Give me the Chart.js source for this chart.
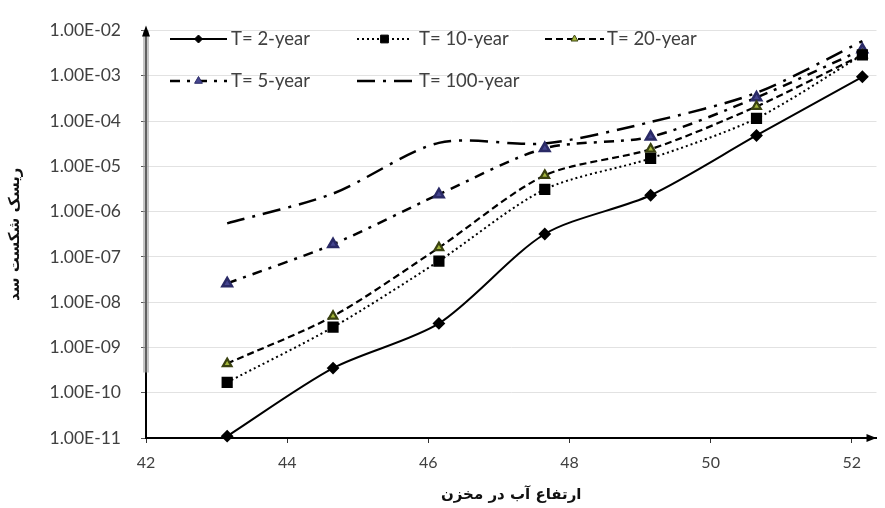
<!DOCTYPE HTML>
<html>
<head>
  <meta charset="UTF-8">
  <script src="https://cdn.jsdelivr.net/npm/chart.js"></script>
  <style>
    html, body { margin: 0; padding: 0; background: #fff; }
    .chart-container { width: 885px; height: 508px; }
  </style>
</head>
<body>
  <div class="chart-container">
    <canvas id="riskChart" width="885" height="508"></canvas>
  </div>

<script>
  // water level in reservoir (m)
  const levels = [43.15, 44.65, 46.15, 47.65, 49.15, 50.65, 52.15];

  // dam failure risk per return period
  const risk2 = [1.1e-11, 3.5e-10, 3.4e-9, 3.2e-7, 2.3e-6, 4.8e-5, 9.5e-4];
  const risk10 = [1.7e-10, 2.8e-9, 8.1e-8, 3.1e-6, 1.5e-5, 1.15e-4, 2.9e-3];
  const risk20 = [4.4e-10, 4.9e-9, 1.6e-7, 6.3e-6, 2.4e-5, 2.1e-4, 2.9e-3];
  const risk5 = [2.6e-8, 1.9e-7, 2.4e-6, 2.5e-5, 4.5e-5, 3.3e-4, 3.8e-3];
  const risk100 = [5.5e-7, 2.5e-6, 3.3e-5, 3.2e-5, 9.5e-5, 4.2e-4, 5.8e-3];

  const seriesNames = ['T= 2-year', 'T= 10-year', 'T= 20-year', 'T= 5-year', 'T= 100-year'];

  const xTicks = [42, 44, 46, 48, 50, 52];
  const yTicks = [1e-11, 1e-10, 1e-9, 1e-8, 1e-7, 1e-6, 1e-5, 1e-4, 1e-3, 1e-2];
  const yTickLabels = ['1.00E-11', '1.00E-10', '1.00E-09', '1.00E-08', '1.00E-07',
                       '1.00E-06', '1.00E-05', '1.00E-04', '1.00E-03', '1.00E-02'];

  const xTitle = 'ارتفاع آب در مخزن';
  const yTitle = 'ریسک شکست سد';

  function toPoints(values) {
    return values.map((v, i) => ({ x: levels[i], y: v }));
  }

  // excel-like legend, two rows inside the plot
  const insideLegend = {
    id: 'insideLegend',
    afterDraw(chart) {
      const ctx = chart.ctx;
      const lineFrom = [170, 357, 545];
      const lineTo = [227, 412, 604];
      const textAt = [231, 419, 607];
      const rows = [39, 81];
      chart.data.datasets.forEach((ds, i) => {
        const c = i % 3;
        const y0 = rows[Math.floor(i / 3)];
        ctx.save();
        ctx.strokeStyle = ds.borderColor;
        ctx.lineWidth = ds.borderWidth;
        ctx.setLineDash(ds.borderDash || []);
        ctx.beginPath();
        ctx.moveTo(lineFrom[c], y0);
        ctx.lineTo(lineTo[c], y0);
        ctx.stroke();
        ctx.setLineDash([]);
        if (ds.pointRadius > 0) {
          ctx.fillStyle = ds.pointBackgroundColor;
          ctx.strokeStyle = ds.pointBorderColor;
          ctx.lineWidth = 1;
          Chart.helpers.drawPoint(ctx, {
            pointStyle: ds.pointStyle, radius: ds.pointRadius - 1, rotation: 0, borderWidth: 1
          }, (lineFrom[c] + lineTo[c]) / 2, y0);
        }
        ctx.fillStyle = '#404040';
        ctx.font = '18.5px Lato, "Open Sans", sans-serif';
        ctx.textBaseline = 'middle';
        ctx.fillText(ds.label, textAt[c], y0);
        ctx.restore();
      });
    }
  };

  // axis arrows and the grey smear along the y axis
  const axisDecor = {
    id: 'axisDecor',
    beforeDatasetsDraw(chart) {
      const ctx = chart.ctx;
      const a = chart.chartArea;
      ctx.save();
      ctx.fillStyle = 'rgba(160,160,160,0.6)';
      ctx.fillRect(a.left - 3, a.top, 6, 342);
      ctx.restore();
    },
    afterDraw(chart) {
      const ctx = chart.ctx;
      const a = chart.chartArea;
      ctx.save();
      ctx.fillStyle = '#000';
      ctx.beginPath();
      ctx.moveTo(a.left, a.top - 5);
      ctx.lineTo(a.left - 4, a.top + 6);
      ctx.lineTo(a.left + 4, a.top + 6);
      ctx.closePath();
      ctx.fill();
      ctx.beginPath();
      ctx.moveTo(a.right, a.bottom);
      ctx.lineTo(a.right - 10, a.bottom - 4);
      ctx.lineTo(a.right - 10, a.bottom + 4);
      ctx.closePath();
      ctx.fill();
      ctx.restore();
    }
  };

  function initializeChart() {
    const ctx = document.getElementById('riskChart').getContext('2d');

    new Chart(ctx, {
      type: 'line',
      data: {
        datasets: [{
          label: seriesNames[0],
          data: toPoints(risk2),
          borderColor: '#000',
          borderWidth: 2,
          pointStyle: 'rectRot',
          pointRadius: 5,
          pointBackgroundColor: '#000',
          pointBorderColor: '#000'
        }, {
          label: seriesNames[1],
          data: toPoints(risk10),
          borderColor: '#000',
          borderWidth: 2,
          borderDash: [2, 3],
          pointStyle: 'rect',
          pointRadius: 6.5,
          pointBackgroundColor: '#000',
          pointBorderColor: '#000'
        }, {
          label: seriesNames[2],
          data: toPoints(risk20),
          borderColor: '#000',
          borderWidth: 2.2,
          borderDash: [7, 4],
          pointStyle: 'triangle',
          pointRadius: 5,
          pointBackgroundColor: '#a3b53a',
          pointBorderColor: '#3a4210'
        }, {
          label: seriesNames[3],
          data: toPoints(risk5),
          borderColor: '#000',
          borderWidth: 2.5,
          borderDash: [10, 7, 3, 7],
          pointStyle: 'triangle',
          pointRadius: 5.5,
          pointBackgroundColor: '#45458f',
          pointBorderColor: '#2a2a66'
        }, {
          label: seriesNames[4],
          data: toPoints(risk100),
          borderColor: '#000',
          borderWidth: 2.5,
          borderDash: [18, 8, 3, 8],
          pointRadius: 0
        }]
      },
      options: {
        responsive: false,
        animation: false,
        clip: false,
        layout: { padding: { top: 28, right: 0, left: 0, bottom: 0 } },
        elements: { line: { tension: 0.28 } },
        plugins: {
          legend: { display: false },
          tooltip: { enabled: false }
        },
        scales: {
          x: {
            type: 'linear',
            min: 42,
            max: 52.35,
            afterBuildTicks: scale => { scale.ticks = xTicks.map(v => ({ value: v })); },
            afterFit: scale => { scale.height = 70; },
            border: { color: '#000', width: 2 },
            grid: { drawOnChartArea: false, tickLength: 5, tickColor: '#333' },
            ticks: {
              color: '#404040',
              font: { family: 'Lato, "Open Sans", sans-serif', size: 16 },
              padding: 10,
              maxRotation: 0
            },
            title: {
              display: true,
              text: xTitle,
              color: '#111',
              font: { family: '"DejaVu Sans", sans-serif', size: 15, weight: 'bold' },
              padding: { top: 6 }
            }
          },
          y: {
            type: 'logarithmic',
            min: 1e-11,
            max: 1e-2,
            afterBuildTicks: scale => { scale.ticks = yTicks.map(v => ({ value: v })); },
            afterFit: scale => { scale.width = 146; },
            border: { color: '#000', width: 2 },
            grid: { color: '#e2e2e2', lineWidth: 1, tickLength: 5, tickColor: '#555' },
            ticks: {
              color: '#404040',
              font: { family: 'Lato, "Open Sans", sans-serif', size: 17.5 },
              padding: 20,
              callback: (value) => {
                const i = yTicks.findIndex(t => Math.abs(Math.log10(t) - Math.log10(value)) < 1e-6);
                return i >= 0 ? yTickLabels[i] : '';
              }
            },
            title: {
              display: true,
              text: yTitle,
              color: '#111',
              font: { family: '"DejaVu Sans", sans-serif', size: 15, weight: 'bold' },
              padding: { top: 6, bottom: 0 }
            }
          }
        }
      },
      plugins: [axisDecor, insideLegend]
    });
  }

  window.onload = () => {
    initializeChart();
  };
</script>
</body>
</html>
